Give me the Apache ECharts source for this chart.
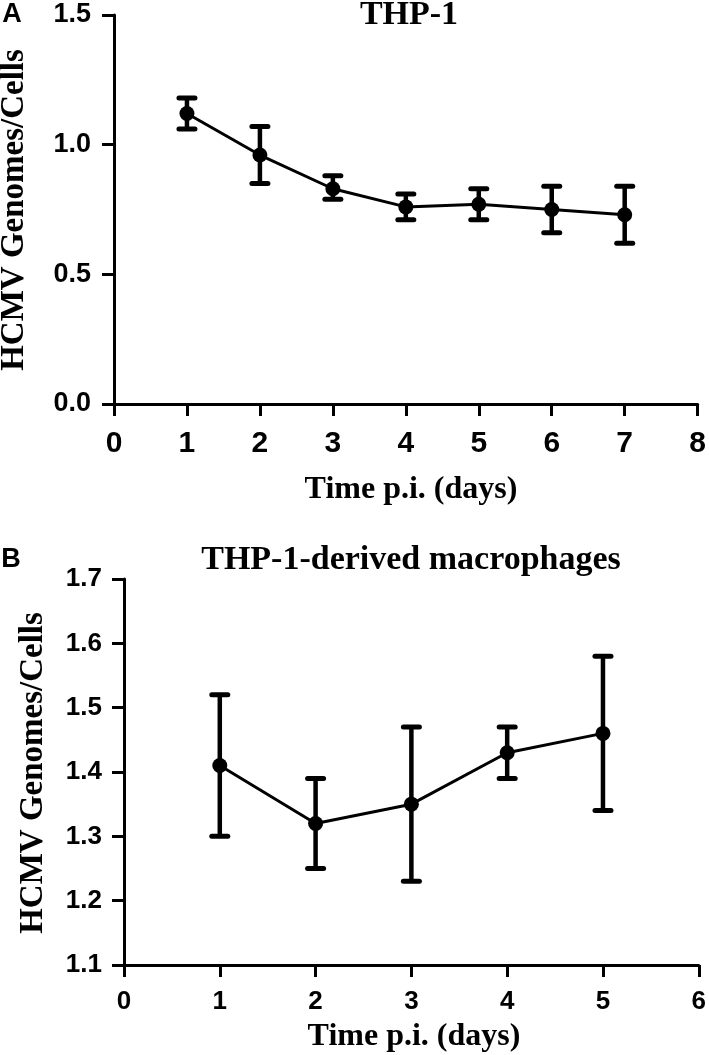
<!DOCTYPE html>
<html>
<head>
<meta charset="utf-8">
<script src="https://cdn.jsdelivr.net/npm/echarts@6/dist/echarts.min.js"></script>
<style>
html,body{margin:0;padding:0;background:#fff;}
#chart{width:709px;height:1055px;}
</style>
</head>
<body>
<div id="chart"></div>
<script>
// Panel A: THP-1
const daysA = [1, 2, 3, 4, 5, 6, 7];
const meanA = [1.12, 0.96, 0.83, 0.76, 0.77, 0.75, 0.73];
const upperA = [1.18, 1.07, 0.88, 0.81, 0.83, 0.84, 0.84];
const lowerA = [1.06, 0.85, 0.79, 0.71, 0.71, 0.66, 0.62];
// Panel B: THP-1-derived macrophages
const daysB = [1, 2, 3, 4, 5];
const meanB = [1.41, 1.32, 1.35, 1.43, 1.46];
const upperB = [1.52, 1.39, 1.47, 1.47, 1.58];
const lowerB = [1.30, 1.25, 1.23, 1.39, 1.34];

const titleA = 'THP-1';
const titleB = 'THP-1-derived macrophages';
const yTitle = 'HCMV Genomes/Cells';
const xTitle = 'Time p.i. (days)';

const chart = echarts.init(document.getElementById('chart'));

function errRender(params, api) {
  const x = api.value(0), lo = api.value(1), hi = api.value(2);
  const pHi = api.coord([x, hi]);
  const pLo = api.coord([x, lo]);
  const hw = 8;
  const st = {stroke: '#000', lineWidth: 5, lineCap: 'round'};
  return {type: 'group', children: [
    {type: 'line', shape: {x1: pHi[0], y1: pHi[1], x2: pLo[0], y2: pLo[1]}, style: {stroke: '#000', lineWidth: 4.5}},
    {type: 'line', shape: {x1: pHi[0] - hw, y1: pHi[1], x2: pHi[0] + hw, y2: pHi[1]}, style: st},
    {type: 'line', shape: {x1: pLo[0] - hw, y1: pLo[1], x2: pLo[0] + hw, y2: pLo[1]}, style: st}
  ]};
}

const axisCommon = {
  axisLine: {lineStyle: {color: '#000', width: 3}},
  axisTick: {show: true, length: 12, lineStyle: {color: '#000', width: 3}},
  splitLine: {show: false}
};
const tickFont = {color: '#000', fontFamily: 'Liberation Sans', fontWeight: 'bold'};

function txt(text, x, y, size, family, rot) {
  return {
    type: 'text', x: x, y: y, rotation: rot || 0, silent: true,
    style: {text: text, fill: '#000', fontFamily: family, fontWeight: 'bold', fontSize: size,
      align: 'center', verticalAlign: 'middle', textAlign: 'center', textVerticalAlign: 'middle'}
  };
}

const option = {
  animation: false,
  backgroundColor: '#fff',
  grid: [
    {left: 114, right: 10, top: 15, height: 389},
    {left: 124, right: 8, top: 579, height: 386}
  ],
  xAxis: [
    Object.assign({type: 'value', gridIndex: 0, min: 0, max: 8, interval: 1,
      axisLabel: Object.assign({fontSize: 30, margin: 25}, tickFont)}, axisCommon),
    Object.assign({type: 'value', gridIndex: 1, min: 0, max: 6, interval: 1,
      axisLabel: Object.assign({fontSize: 26, margin: 24}, tickFont)}, axisCommon)
  ],
  yAxis: [
    Object.assign({type: 'value', gridIndex: 0, min: 0, max: 1.5, interval: 0.5,
      axisLabel: Object.assign({fontSize: 27, margin: 23, formatter: v => v.toFixed(1)}, tickFont)}, axisCommon),
    Object.assign({type: 'value', gridIndex: 1, min: 1.1, max: 1.7, interval: 0.1,
      axisLabel: Object.assign({fontSize: 26, margin: 22, formatter: v => v.toFixed(1)}, tickFont)}, axisCommon)
  ],
  series: [
    {type: 'custom', xAxisIndex: 0, yAxisIndex: 0, renderItem: errRender,
      data: daysA.map((d, i) => [d, lowerA[i], upperA[i]]), z: 2},
    {type: 'line', xAxisIndex: 0, yAxisIndex: 0, data: daysA.map((d, i) => [d, meanA[i]]),
      symbol: 'circle', symbolSize: 15, lineStyle: {color: '#000', width: 3},
      itemStyle: {color: '#000'}, z: 3},
    {type: 'custom', xAxisIndex: 1, yAxisIndex: 1, renderItem: errRender,
      data: daysB.map((d, i) => [d, lowerB[i], upperB[i]]), z: 2},
    {type: 'line', xAxisIndex: 1, yAxisIndex: 1, data: daysB.map((d, i) => [d, meanB[i]]),
      symbol: 'circle', symbolSize: 15, lineStyle: {color: '#000', width: 3},
      itemStyle: {color: '#000'}, z: 3}
  ],
  graphic: [
    txt('A', 12, 15, 27, 'Liberation Sans'),
    txt('B', 11, 560, 27, 'Liberation Sans'),
    txt(titleA, 409, 15, 34, 'Liberation Serif'),
    txt(titleB, 411, 560, 34, 'Liberation Serif'),
    txt(yTitle, 14, 210, 33, 'Liberation Serif', Math.PI / 2),
    txt(yTitle, 33, 773, 33, 'Liberation Serif', Math.PI / 2),
    txt(xTitle, 411, 490, 32, 'Liberation Serif'),
    txt(xTitle, 414, 1037, 32, 'Liberation Serif')
  ]
};
chart.setOption(option);
</script>
</body>
</html>
